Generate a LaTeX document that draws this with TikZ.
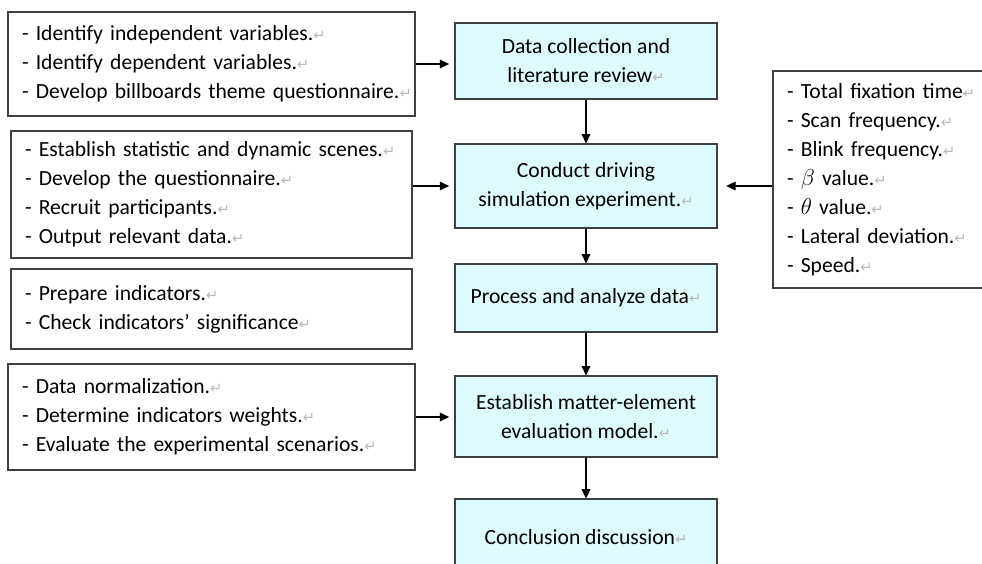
\documentclass[tikz,border=0pt]{standalone}
\usepackage{fontspec}
\setmainfont{Carlito}
\newfontfamily\markfont{DejaVu Sans}
\usetikzlibrary{arrows.meta}
\definecolor{boxcyan}{HTML}{DDFBFE}
\definecolor{edgegray}{HTML}{404040}
% 段落标记
\newcommand{\pmk}{{\markfont\fontsize{11}{11}\selectfont\textcolor{gray!55}{↵}}}

\begin{document}
\begin{tikzpicture}[x=0.75pt,y=-0.75pt,
  every node/.style={font=\fontsize{16.2}{21.75}\selectfont},
  listbox/.style={draw=edgegray,line width=0.8pt,align=left,inner xsep=10.5pt,inner ysep=0pt},
  stepbox/.style={draw=edgegray,line width=0.8pt,fill=boxcyan,align=center,minimum width=196.5pt,inner sep=0pt},
  flow/.style={-{Triangle[length=7pt,width=6.5pt]},line width=0.8pt}]
  % 画布
  \useasboundingbox (0,0) rectangle (982,564);

  % 主流程
  \node[stepbox,minimum height=57pt] (collect) at (586,61) {Data collection and\\ literature review\pmk};
  \node[stepbox,minimum height=63pt] (drive) at (586,186) {Conduct driving\\ simulation experiment.\pmk};
  \node[stepbox,minimum height=51pt] (process) at (586,298) {Process and analyze data\pmk};
  \node[stepbox,minimum height=60.75pt] (model) at (586,416.5) {Establish matter-element\\ evaluation model.\pmk};
  \node[stepbox,minimum height=57pt] (conclude) at (586,537) {Conclusion discussion\pmk};

  % 左侧说明
  \node[listbox,text width=284.25pt,minimum height=78pt] (ident) at (211.5,64)
    {- Identify independent variables.\pmk\\
     - Identify dependent variables.\pmk\\
     \mbox{- Develop billboards theme questionnaire.\pmk}};
  \node[listbox,text width=279.75pt,minimum height=95.25pt] (scene) at (211.5,194.5)
    {\mbox{- Establish statistic and dynamic scenes.\pmk}\\
     - Develop the questionnaire.\pmk\\
     - Recruit participants.\pmk\\
     - Output relevant data.\pmk};
  \node[listbox,text width=279.75pt,minimum height=60pt] (prep) at (211.5,309)
    {- Prepare indicators.\pmk\\
     - Check indicators’ significance\pmk\\[6pt]};
  \node[listbox,text width=284.25pt,minimum height=79.5pt] (norm) at (211.5,417)
    {- Data normalization.\pmk\\
     - Determine indicators weights.\pmk\\
     - Evaluate the experimental scenarios.\pmk};

  % 右侧指标
  \node[listbox,text width=151.5pt,minimum height=162.75pt] (indic) at (888,179.5)
    {- Total fixation time\pmk\\
     - Scan frequency.\pmk\\
     - Blink frequency.\pmk\\
     - $\beta$ value.\pmk\\
     - $\theta$ value.\pmk\\
     - Lateral deviation.\pmk\\
     - Speed.\pmk};

  % 箭头
  \draw[flow] (collect) -- (drive);
  \draw[flow] (drive) -- (process);
  \draw[flow] (process) -- (model);
  \draw[flow] (model) -- (conclude);
  \draw[flow,shorten >=4pt] (ident.east) -- (ident.east -| collect.west);
  \draw[flow,shorten >=4pt] (drive.west -| scene.east) -- (drive.west);
  \draw[flow,shorten >=6.5pt] (drive.east -| indic.west) -- (drive.east);
  \draw[flow,shorten >=4pt] (norm.east) -- (norm.east -| model.west);
\end{tikzpicture}
\end{document}
